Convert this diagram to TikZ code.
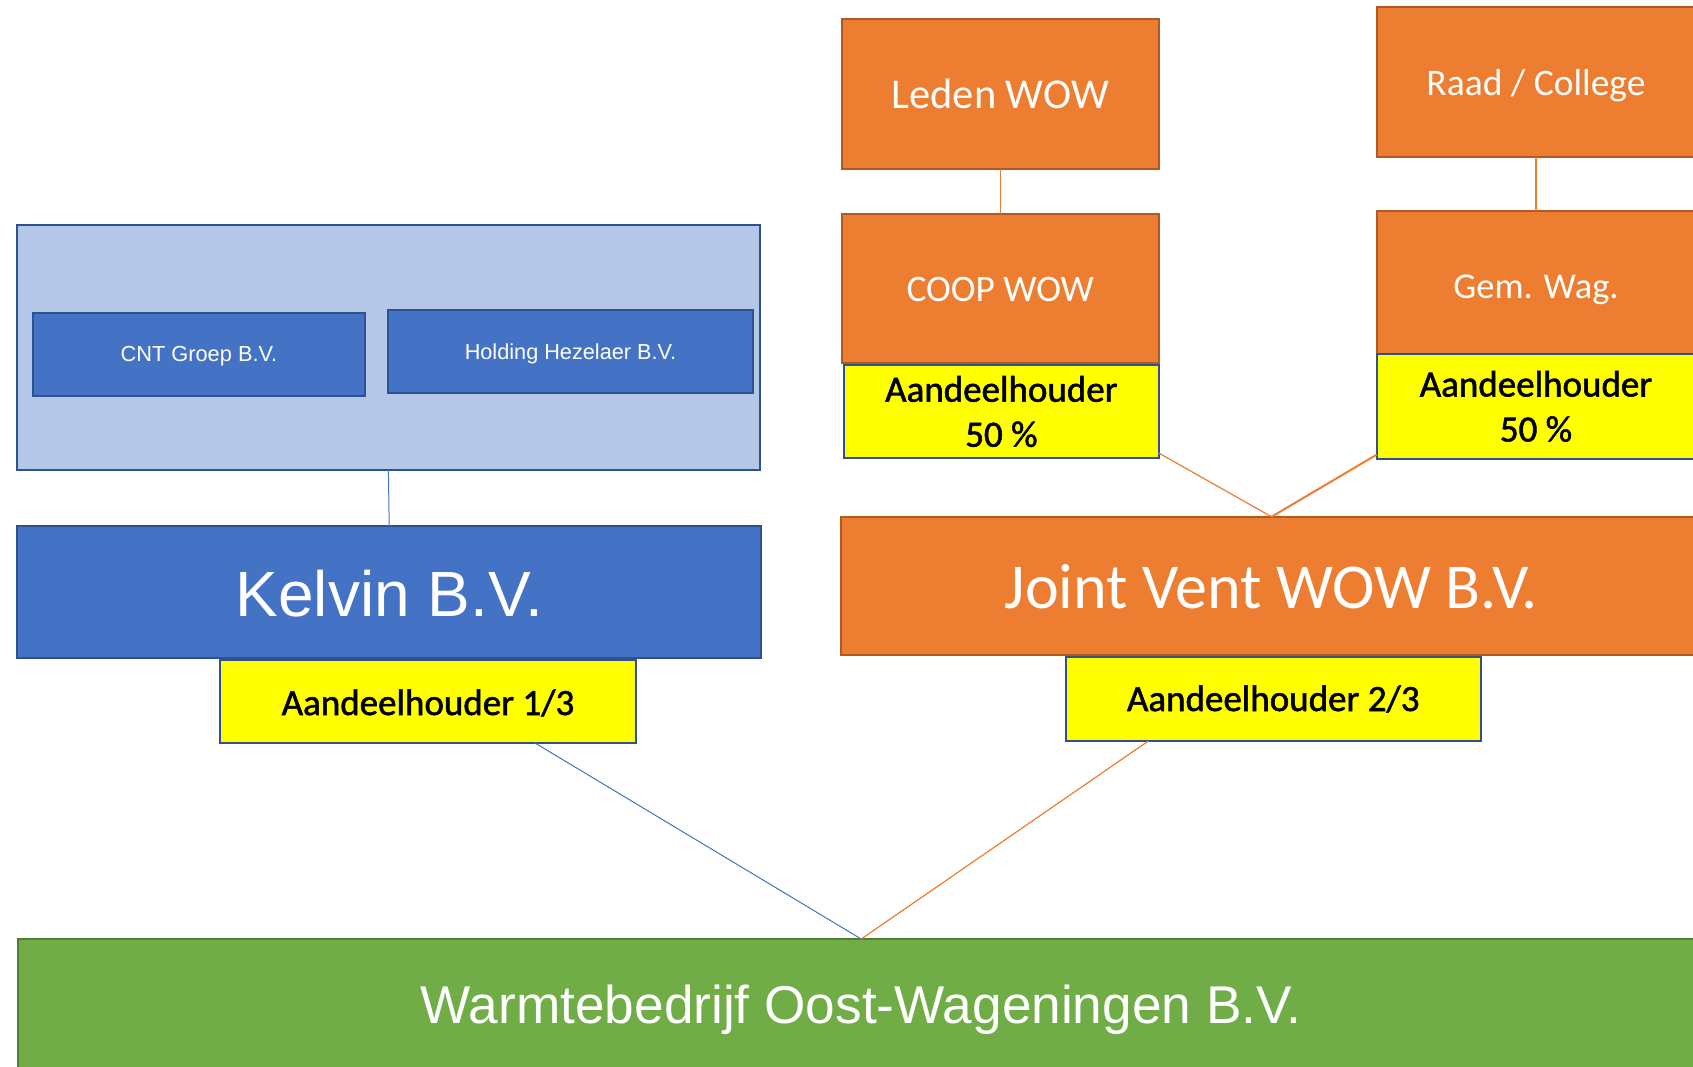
\documentclass[tikz,border=0pt]{standalone}
\usepackage{fontspec}
\setmainfont{Carlito}
\newfontfamily\arial{Liberation Sans}
\newfontfamily\shadowfont[FakeBold=1.5]{Carlito}
\definecolor{orfill}{HTML}{ED7D31}
\definecolor{ordraw}{HTML}{AE5A21}
\definecolor{blfill}{HTML}{4472C4}
\definecolor{bldraw}{HTML}{2F528F}
\definecolor{ltfill}{HTML}{B4C7E7}
\definecolor{grfill}{HTML}{70AD47}
\definecolor{grdraw}{HTML}{507E32}
\definecolor{yefill}{HTML}{FFFF00}
\begin{document}
\begin{tikzpicture}[x=1pt,y=-1pt,
  base/.style={rectangle, inner sep=0pt, outer sep=0pt, align=center, text depth=0pt},
  orbox/.style={base, fill=orfill, draw=ordraw, line width=2pt, text=white},
  blbox/.style={base, fill=blfill, draw=bldraw, line width=2.2pt, text=white},
  ltbox/.style={base, fill=ltfill, draw=bldraw, line width=2.2pt},
  yebox/.style={base, fill=yefill, draw=bldraw, line width=2pt, text=black, font=\shadowfont\fontsize{37}{44}\selectfont},
  yetwo/.style={rectangle, inner sep=0pt, outer sep=0pt, align=center, fill=yefill, draw=bldraw, line width=2pt, text=black},
  grbox/.style={base, fill=grfill, draw=grdraw, line width=2pt, text=white},
  bline/.style={draw=blfill, line width=1pt},
  oline/.style={draw=orfill, line width=1.2pt},
  othick/.style={draw=orfill, line width=2pt}
]
\useasboundingbox (0,0) rectangle (1693,1066);
\clip (0,0) rectangle (1693,1066);

% left group
\node[ltbox, minimum width=743.2pt, minimum height=245pt] (outer) at (388.4,347.5) {};
\node[blbox, minimum width=332.3pt, minimum height=83pt, text height=15pt, font=\arial\fontsize{21.8}{26}\selectfont] (cnt) at (198.9,354.2) {CNT Groep B.V.};
\node[blbox, minimum width=365pt, minimum height=82.7pt, text height=15.8pt, font=\arial\fontsize{21.7}{26}\selectfont] (hold) at (570.5,351.4) {Holding Hezelaer B.V.};
\node[blbox, minimum width=743.7pt, minimum height=131.7pt, text height=49.4pt, font=\arial\fontsize{64}{72}\selectfont] (kelvin) at (389.2,591.9) {Kelvin B.V.};
\node[yebox, minimum width=416pt, minimum height=83pt, text height=27pt] (y13) at (428,701.5) {Aandeelhouder 1/3};

% right group
\node[orbox, minimum width=317pt, minimum height=150pt, text height=28pt, font=\fontsize{42.5}{50}\selectfont] (leden) at (1000.2,94) {Leden WOW};
\node[orbox, minimum width=317pt, minimum height=149pt, text height=26.4pt, font=\fontsize{37.4}{44}\selectfont] (coop) at (1000.2,288.5) {COOP WOW};
\node[yetwo, minimum width=314.7pt, minimum height=93pt, font=\shadowfont\fontsize{37}{45}\selectfont] (coopy) at (1001.4,411.5) {Aandeelhouder\\50 \%};
\node[orbox, minimum width=318.6pt, minimum height=150.3pt, text height=27.4pt, font=\fontsize{37.5}{44}\selectfont] (raad) at (1536,81.9) {Raad / College};
\node[orbox, minimum width=318.6pt, minimum height=143.3pt, text height=31.4pt, font=\fontsize{36.4}{44}\selectfont] (gem) at (1536,282.3) {Gem. Wag.};
\node[yetwo, minimum width=318.6pt, minimum height=104.7pt, font=\shadowfont\fontsize{37}{45}\selectfont] (gemy) at (1536,406.3) {Aandeelhouder\\50 \%};
\node[orbox, minimum width=861pt, minimum height=138.3pt, text height=44.6pt, font=\fontsize{64}{72}\selectfont] (joint) at (1271.5,585.9) {Joint Vent WOW B.V.};
\node[yebox, minimum width=415.5pt, minimum height=84pt, text height=24pt] (y23) at (1273.3,699) {Aandeelhouder 2/3};

% bottom
\node[grbox, minimum width=1685.6pt, minimum height=129pt, text height=39pt, font=\arial\fontsize{53.2}{60}\selectfont] (green) at (861.2,1003.5) {Warmtebedrijf Oost-Wageningen B.V.};

% connectors
\draw[bline] (outer.south) -- (kelvin.north);
\draw[oline] (leden.south) -- (coop.north);
\draw[oline] (raad.south) -- (gem.north);
\draw[oline] ([yshift=5pt]coopy.south east) -- (joint.north);
\draw[othick] ([yshift=4pt]gemy.south west) -- (joint.north);
\draw[bline] ([xshift=107pt]y13.south) -- (green.north);
\draw[oline] ([xshift=-125pt]y23.south) -- (green.north);
\end{tikzpicture}
\end{document}
